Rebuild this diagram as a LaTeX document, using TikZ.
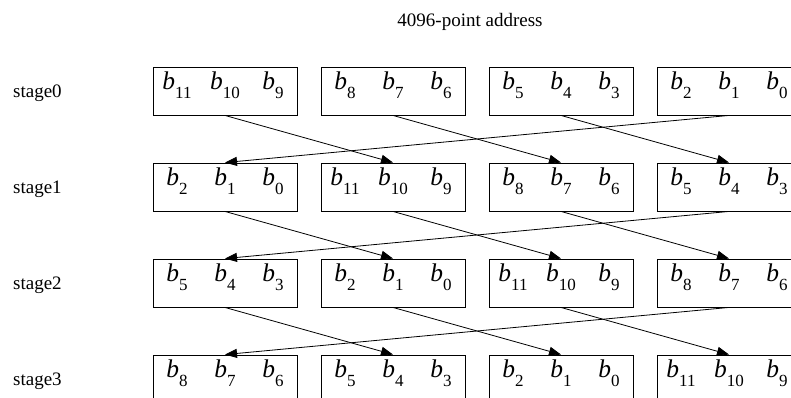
\documentclass[tikz,border=0pt]{standalone}
\usepackage{fontspec}
\setmainfont{Liberation Serif}
\usetikzlibrary{arrows.meta}
% one address bit: italic b with a lowered index
\newcommand{\bitb}[1]{\makebox[48pt]{\fontsize{25.5}{25.5}\selectfont\textit{b}\raisebox{-9pt}{\fontsize{17}{17}\selectfont #1}}}
\tikzset{
  addr/.style={
    rectangle, draw=black, line width=0.9pt,
    inner sep=0pt, minimum width=144pt, minimum height=48pt,
    text height=20pt, text depth=22pt,
  },
  stg/.style={
    anchor=west, inner sep=0pt, font=\fontsize{19}{22}\selectfont,
  },
  mv/.style={
    -{Triangle[length=12pt,width=9pt]},
    line width=0.8pt,
  },
}
\begin{document}
\begin{tikzpicture}[x=1pt,y=1pt]
  \useasboundingbox (0,0) rectangle (791,398);
  \clip (0,0) rectangle (791,398);
  \node[stg, anchor=center] (title) at (470,376) {4096-point address};
  % rows of address groups
  \foreach \r/\y in {0/307,1/211,2/115,3/19}{
    \node[stg] (lab\r) at (13,\y-2) {stage\r};
    \foreach \c/\x in {1/225,2/393,3/561,4/729}{
      \pgfmathtruncatemacro{\ta}{11-3*mod(\c+3-\r,4)}
      \pgfmathtruncatemacro{\tb}{\ta-1}
      \pgfmathtruncatemacro{\tc}{\ta-2}
      \node[addr] (s\r-\c) at (\x,\y) {\bitb{\ta}\bitb{\tb}\bitb{\tc}};
    }
  }
  % rotate one group to the right per stage
  \foreach \r in {0,1,2}{
    \pgfmathtruncatemacro{\n}{\r+1}
    \foreach \c in {1,2,3}{
      \pgfmathtruncatemacro{\d}{\c+1}
      \draw[mv] (s\r-\c.south) -- (s\n-\d.north);
    }
    \draw[mv] (s\r-4.south) -- (s\n-1.north);
  }
\end{tikzpicture}
\end{document}
